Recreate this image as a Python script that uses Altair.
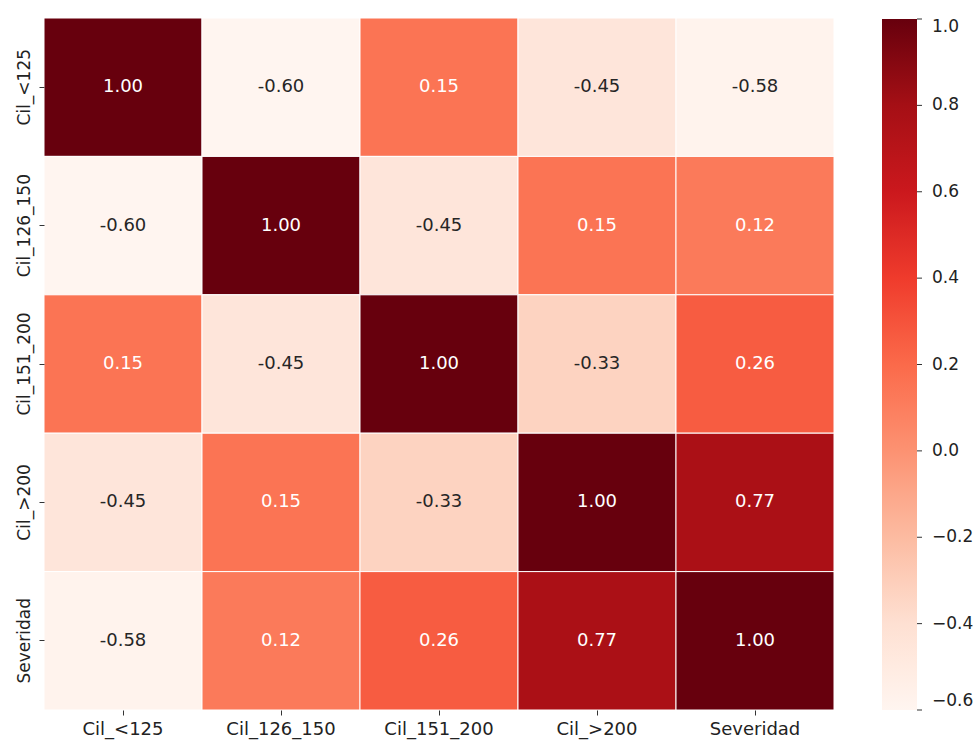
import altair as alt
import pandas as pd

# Correlation matrix between cylinder-size groups and severity
variables = ["Cil_<125", "Cil_126_150", "Cil_151_200", "Cil_>200", "Severidad"]
corr_rows = [
    [1.00, -0.60, 0.15, -0.45, -0.58],
    [-0.60, 1.00, -0.45, 0.15, 0.12],
    [0.15, -0.45, 1.00, -0.33, 0.26],
    [-0.45, 0.15, -0.33, 1.00, 0.77],
    [-0.58, 0.12, 0.26, 0.77, 1.00],
]
colorbar_ticks = [1.0, 0.8, 0.6, 0.4, 0.2, 0.0, -0.2, -0.4, -0.6]

# ColorBrewer "Reds" stops, spread evenly over the colour domain
reds_stops = ["#fff5f0", "#fee0d2", "#fcbba1", "#fc9272", "#fb6a4a",
              "#ef3b2c", "#cb181d", "#a50f15", "#67000d"]
reds_domain = [-0.6, -0.4, -0.2, 0.0, 0.2, 0.4, 0.6, 0.8, 1.0]

records = []
for i, row_name in enumerate(variables):
    for j, col_name in enumerate(variables):
        v = corr_rows[i][j]
        records.append({"row": row_name, "col": col_name, "corr": v,
                        "label": f"{v:.2f}"})
df = pd.DataFrame(records)
ticks_df = pd.DataFrame({"v": colorbar_ticks})

FONT = "DejaVu Sans"

x_enc = alt.X(
    "col:N", sort=variables, title=None,
    axis=alt.Axis(labelAngle=0, domain=False, tickSize=5, tickColor="#333",
                  labelFontSize=18, labelColor="#222", labelPadding=5, labelFont=FONT),
    scale=alt.Scale(paddingInner=0, paddingOuter=0),
)
y_enc = alt.Y(
    "row:N", sort=variables, title=None,
    axis=alt.Axis(labelAngle=270, domain=False, tickSize=5, tickColor="#333",
                  labelFontSize=17, labelColor="#222", labelPadding=6, labelFont=FONT,
                  labelAlign="center", labelBaseline="bottom"),
    scale=alt.Scale(paddingInner=0, paddingOuter=0),
)

cells = alt.Chart(df).mark_rect(stroke="white", strokeWidth=1).encode(
    x=x_enc,
    y=y_enc,
    color=alt.Color(
        "corr:Q",
        scale=alt.Scale(domain=reds_domain, range=reds_stops, interpolate="rgb"),
        legend=alt.Legend(
            title=None, orient="none", legendX=838, legendY=1,
            direction="vertical", gradientLength=691, gradientThickness=35,
            values=colorbar_ticks, labelFontSize=17, labelFont=FONT,
            labelColor="#222", labelOffset=15,
            labelExpr="replace(format(datum.value, '.1f'), '-', '\u2212')",
            gradientStrokeWidth=0,
        ),
    ),
)

labels = alt.Chart(df).mark_text(fontSize=18, font=FONT).encode(
    x=alt.X("col:N", sort=variables),
    y=alt.Y("row:N", sort=variables),
    text="label:N",
    color=alt.condition("datum.corr > -0.2", alt.value("white"), alt.value("#262626")),
)

# Small tick marks beside the colour bar
cbar_ticks = alt.Chart(ticks_df).mark_rule(color="#333", strokeWidth=1).encode(
    x=alt.value(873),
    x2=alt.value(878),
    y=alt.Y("v:Q", scale=alt.Scale(domain=[-0.6, 1.0], range=[692, 1]), axis=None),
)

heat = alt.layer(cells, labels)

chart = (
    alt.layer(heat, cbar_ticks)
    .resolve_scale(y="independent")
    .properties(
        width=790, height=692,
        autosize=alt.AutoSizeParams(type="none"),
        padding={"left": 44, "top": 18, "right": 143, "bottom": 35},
        background="white",
    )
    .configure_view(stroke=None)
)

chart.save("out.html", embed_options={"renderer": "svg", "actions": False})
